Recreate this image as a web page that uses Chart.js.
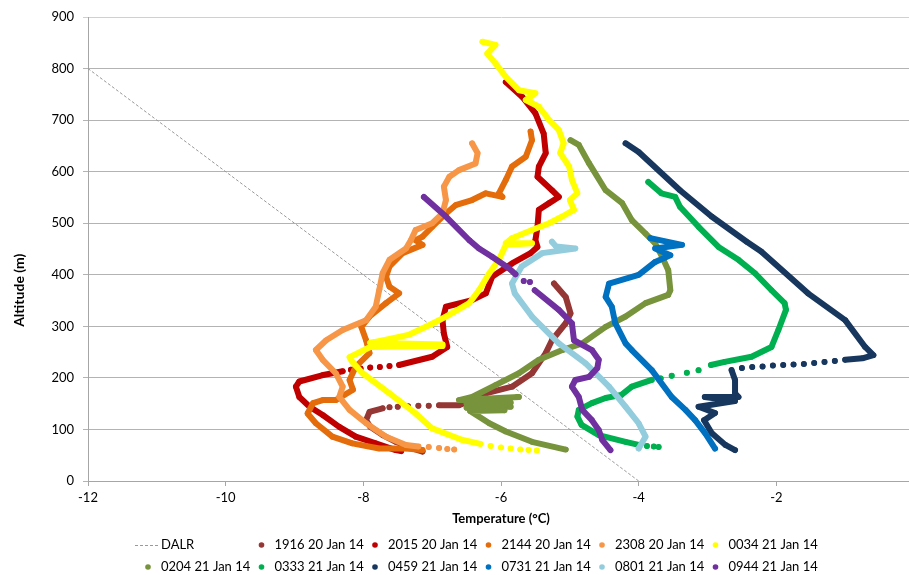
<!DOCTYPE html>
<html>
<head>
<meta charset="utf-8">
<script src="https://cdn.jsdelivr.net/npm/chart.js@4.4.0/dist/chart.umd.min.js"></script>
<style>
  html, body { margin: 0; padding: 0; background: #fff; overflow: hidden; }
</style>
</head>
<body>
<canvas id="chart" width="950" height="575"></canvas>
<script>
// Dry adiabatic lapse rate reference line
const dalrTemp = [-12, -4];
const dalrAlt = [800, 0];

// Profiles: [temperature degC, altitude m], null = gap between sparse points
const s1916 = [[-5.23,383],[-5.06,357],[-4.99,325],[-5.06,306],[-5.26,273],[-5.35,248],[-5.55,209],[-5.84,183],[-6.22,170],[-6.42,157],[-6.61,147],[-6.9,147],
  null,[-7.05,146],null,[-7.2,146],null,[-7.35,145],null,[-7.5,144],null,[-7.62,143],null,
  [-7.72,141],[-7.91,134],[-7.96,118],[-7.9,105],[-7.72,89],[-7.53,76],[-7.28,63],[-7.14,57]];

const s2015 = [[-5.93,774],[-5.69,745],[-5.50,713],[-5.38,674],[-5.35,636],[-5.45,610],[-5.47,590],[-5.26,564],[-5.16,551],[-5.30,539],[-5.45,526],[-5.47,493],[-5.50,467],[-5.47,454],[-5.57,442],[-5.84,422],[-6.13,396],[-6.22,364],[-6.42,351],[-6.80,338],[-6.85,312],[-6.83,286],[-6.78,260],[-7.0,241],[-7.48,225],
  null,[-7.62,223],null,[-7.76,221],null,[-7.9,220],null,[-8.04,218],null,[-8.18,216],null,
  [-8.3,213],[-8.6,205],[-8.93,193],[-8.98,183],[-8.93,163],[-8.78,144],[-8.59,128],[-8.35,105],[-8.11,86],[-7.82,73],[-7.53,60],[-7.45,58]];

const s2144 = [[-5.57,678],[-5.55,661],[-5.64,629],[-5.84,610],[-5.93,584],[-6.03,558],[-5.98,551],[-6.22,558],[-6.42,545],[-6.66,535],[-6.80,519],[-7.0,493],[-7.14,474],[-7.24,467],[-7.14,458],[-7.43,442],[-7.62,416],[-7.67,396],[-7.62,377],[-7.48,364],[-7.67,345],[-7.91,319],[-8.03,299],[-7.96,273],[-7.91,248],[-8.11,222],[-8.20,196],[-8.15,177],[-8.40,157],[-8.59,157],[-8.73,151],[-8.81,131],[-8.69,112],[-8.45,86],[-8.16,73],[-7.77,63],[-7.38,63],[-7.14,60]];

const s2308 = [[-6.42,655],[-6.34,636],[-6.37,616],[-6.61,603],[-6.75,590],[-6.83,571],[-6.80,545],[-6.85,519],[-7.0,500],[-7.24,487],[-7.31,467],[-7.38,451],[-7.62,429],[-7.72,403],[-7.77,370],[-7.82,338],[-7.96,312],[-8.30,293],[-8.54,273],[-8.69,254],[-8.59,235],[-8.40,209],[-8.30,183],[-8.35,163],[-8.20,138],[-7.96,112],[-7.67,86],[-7.38,70],[-7.2,67],
  null,[-7.05,66],null,[-6.9,64],null,[-6.78,62],null,[-6.68,61]];

const s0034 = [[-6.27,852],[-6.08,846],[-6.20,829],[-6.08,810],[-5.93,784],[-5.74,758],[-5.50,752],[-5.64,739],[-5.45,726],[-5.30,700],[-5.16,681],[-5.09,655],[-5.14,636],[-5.01,610],[-4.97,584],[-4.89,558],[-5.0,545],[-4.94,526],[-5.11,513],[-5.30,500],[-5.55,487],[-5.84,471],[-5.93,461],[-5.55,461],[-5.93,458],[-6.03,429],[-6.17,403],[-6.32,370],[-6.46,345],[-6.80,319],[-7.0,305],[-7.33,284],[-7.6,276],[-7.9,268],[-6.85,265],[-6.85,262],[-7.9,260],[-8.2,240],[-8.16,231],[-8.01,209],[-7.62,170],[-7.24,131],[-7.0,102],[-6.57,80],[-6.3,72],
  null,[-6.15,68],null,[-6.0,65],null,[-5.86,63],null,[-5.72,61],null,[-5.6,60],null,[-5.48,59]];

const s0204 = [[-4.99,661],[-4.87,652],[-4.72,616],[-4.48,564],[-4.24,539],[-4.10,506],[-3.90,480],[-3.76,461],[-3.66,435],[-3.57,409],[-3.54,370],[-3.57,361],[-3.90,345],[-4.19,319],[-4.48,299],[-4.82,267],[-5.11,254],[-5.45,235],[-5.74,209],[-6.08,186],[-6.42,163],[-6.61,157],[-5.74,163],[-6.4,158],[-5.86,152],[-6.5,150],[-5.86,144],[-6.5,142],[-5.95,137],[-6.45,136],[-6.17,112],[-5.93,96],[-5.55,76],[-5.06,61]];

const s0333 = [[-3.86,580],[-3.67,558],[-3.47,551],[-3.40,532],[-3.13,493],[-2.84,454],[-2.55,429],[-2.31,403],[-2.07,370],[-1.88,345],[-1.86,332],[-1.97,293],[-2.07,260],[-2.36,241],[-2.75,231],[-2.95,225],
  null,[-3.13,215],null,[-3.3,210],null,[-3.52,204],null,[-3.68,199],null,
  [-3.81,196],[-4.10,183],[-4.25,167],[-4.48,161],[-4.68,151],[-4.87,138],[-4.89,125],[-4.83,109],[-4.58,89],[-4.19,76],[-4.0,70],
  null,[-3.88,68],null,[-3.78,67],null,[-3.71,66]];

const s0459 = [[-4.19,655],[-4.0,638],[-3.40,564],[-2.94,513],[-2.43,464],[-2.22,445],[-1.54,364],[-1.0,312],[-0.71,260],[-0.59,244],[-0.75,238],[-1.0,235],
  null,[-1.15,233],null,[-1.3,231],null,[-1.45,229],null,[-1.6,227],null,[-1.75,226],null,[-1.9,225],null,[-2.05,224],null,[-2.2,222],null,[-2.35,221],null,[-2.5,219],null,
  [-2.65,215],[-2.6,196],[-2.6,170],[-2.55,163],[-3.04,163],[-2.6,155],[-3.13,144],[-2.89,132],[-3.05,118],[-2.94,93],[-2.74,70],[-2.6,60]];

const s0731 = [[-3.83,471],[-3.37,458],[-3.76,451],[-3.54,438],[-3.76,425],[-4.0,400],[-4.43,383],[-4.48,357],[-4.39,338],[-4.34,306],[-4.19,267],[-4.1,254],[-3.81,215],[-3.52,163],[-3.32,138],[-3.18,118],[-3.03,92],[-2.89,63]];

const s0801 = [[-5.26,464],[-5.2,455],[-4.92,451],[-5.40,442],[-5.70,416],[-5.84,383],[-5.80,364],[-5.55,319],[-5.16,267],[-4.77,228],[-4.43,183],[-4.19,144],[-4.0,112],[-3.90,86],[-4.0,63]];

const s0944 = [[-7.12,551],[-6.80,513],[-6.46,467],[-6.32,451],[-6.13,435],[-5.88,412],[-5.79,401],
  null,[-5.67,388],null,[-5.58,386],null,
  [-5.51,370],[-5.16,332],[-4.97,306],[-4.94,273],[-4.68,254],[-4.58,235],[-4.60,219],[-4.72,202],[-4.92,196],[-4.97,183],[-4.87,163],[-4.82,138],[-4.68,118],[-4.58,99],[-4.53,80],[-4.41,60]];

const seriesLabels = ['1916 20 Jan 14', '2015 20 Jan 14', '2144 20 Jan 14', '2308 20 Jan 14', '0034 21 Jan 14',
  '0204 21 Jan 14', '0333 21 Jan 14', '0459 21 Jan 14', '0731 21 Jan 14', '0801 21 Jan 14', '0944 21 Jan 14'];
const seriesData = [s1916, s2015, s2144, s2308, s0034, s0204, s0333, s0459, s0731, s0801, s0944];
const seriesColors = ['#953735', '#C00000', '#E46C0A', '#F79646', '#FFFF00',
  '#77933C', '#00B050', '#17375E', '#0070C0', '#93CDDD', '#7030A0'];

const FONT = 'Lato, "Open Sans", sans-serif';

function toPoints(series) {
  return series.map(p => p ? { x: p[0], y: p[1] } : { x: null, y: null });
}

const datasets = [{
  label: 'DALR',
  data: dalrTemp.map((t, i) => ({ x: t, y: dalrAlt[i] })),
  showLine: true,
  borderColor: '#9a9a9a',
  borderWidth: 1,
  borderDash: [3, 2],
  pointRadius: 0,
  order: 20
}];

seriesData.forEach((s, i) => {
  datasets.push({
    label: seriesLabels[i],
    data: toPoints(s),
    showLine: true,
    spanGaps: false,
    borderColor: seriesColors[i],
    backgroundColor: seriesColors[i],
    borderWidth: 6,
    borderCapStyle: 'round',
    borderJoinStyle: 'round',
    pointRadius: 2.8,
    pointBorderWidth: 0,
    pointHoverRadius: 2.8,
    order: 11 - i
  });
});

// Legend laid out as a 6 column grid under the axis title,
// plus the y title which sits below the middle of the axis in the original
const extras = {
  id: 'extras',
  afterDraw(chart) {
    const ctx = chart.ctx;
    const pitch = 113.5;
    const left = chart.width / 2 - 327;
    ctx.save();
    ctx.font = '13px ' + FONT;
    ctx.textBaseline = 'middle';
    chart.data.datasets.forEach((ds, i) => {
      const col = i % 6, row = Math.floor(i / 6);
      const x = left + col * pitch;
      const y = chart.height - 30 + row * 22;
      if (ds.borderDash) {
        ctx.strokeStyle = ds.borderColor;
        ctx.lineWidth = 1;
        ctx.setLineDash(ds.borderDash);
        ctx.beginPath();
        ctx.moveTo(x - 13, y + 0.5);
        ctx.lineTo(x + 12, y + 0.5);
        ctx.stroke();
        ctx.setLineDash([]);
      } else {
        ctx.fillStyle = ds.backgroundColor;
        ctx.beginPath();
        ctx.arc(x, y, 2.8, 0, Math.PI * 2);
        ctx.fill();
      }
      ctx.fillStyle = '#000';
      ctx.fillText(ds.label, x + 13, y);
    });

    const yScale = chart.scales.y;
    ctx.translate(19, yScale.getPixelForValue(370));
    ctx.rotate(-Math.PI / 2);
    ctx.textAlign = 'center';
    ctx.font = 'bold 14px ' + FONT;
    ctx.fillText('Altitude (m)', 0, 0);
    ctx.restore();
  }
};

new Chart(document.getElementById('chart'), {
  type: 'scatter',
  data: { datasets },
  options: {
    responsive: false,
    animation: false,
    devicePixelRatio: 1,
    layout: { padding: { left: 0, right: 36, top: 17, bottom: 47 } },
    plugins: {
      legend: { display: false },
      tooltip: { enabled: false }
    },
    scales: {
      x: {
        type: 'linear',
        min: -12,
        max: 0,
        ticks: { stepSize: 2, padding: 4, color: '#000', font: { family: FONT, size: 13 } },
        grid: { drawOnChartArea: false, drawTicks: true, tickLength: 5, color: '#a6a6a6' },
        border: { color: '#a6a6a6' },
        title: {
          display: true,
          text: 'Temperature (°C)',
          color: '#000',
          font: { family: FONT, size: 13, weight: 'bold' },
          padding: { top: 4, bottom: 1 }
        },
        afterFit: s => { s.height = 47; }
      },
      y: {
        min: 0,
        max: 900,
        ticks: { stepSize: 100, padding: 9, color: '#000', font: { family: FONT, size: 13 } },
        grid: {
          tickLength: 5,
          color: c => c.tick && c.tick.value === 900 ? '#d0d0d0' : '#b3b3b3'
        },
        border: { color: '#a6a6a6' },
        afterFit: s => { s.width = 88; }
      }
    }
  },
  plugins: [extras]
});
</script>
</body>
</html>
